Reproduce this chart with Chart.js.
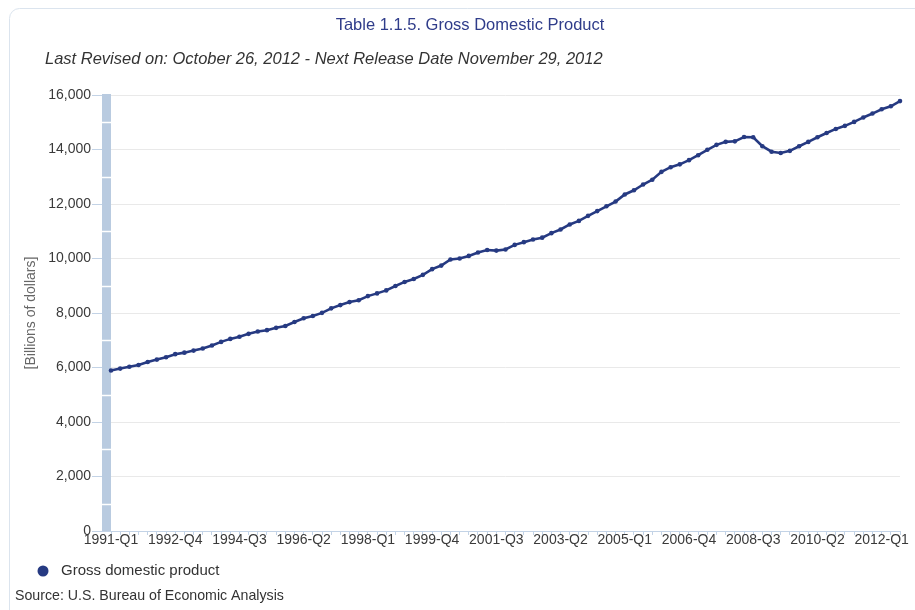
<!DOCTYPE html>
<html>
<head>
<meta charset="utf-8">
<script src="https://cdn.jsdelivr.net/npm/chart.js@4.4.0/dist/chart.umd.min.js"></script>
<style>
  html, body { margin: 0; padding: 0; background: #ffffff; overflow: hidden; }
  #wrap { width: 915px; height: 610px; position: relative; }
</style>
</head>
<body>
<div id="wrap"><canvas id="c" width="915" height="610"></canvas></div>
<script>
// ---------- DATA ----------
const chartTitle = 'Table 1.1.5. Gross Domestic Product';
const chartSubtitle = 'Last Revised on: October 26, 2012 - Next Release Date November 29, 2012';
const sourceText = 'Source: U.S. Bureau of Economic Analysis';
const yAxisTitle = '[Billions of dollars]';
const seriesName = 'Gross domestic product';

const categories = [
  '1991-Q1','1991-Q2','1991-Q3','1991-Q4',
  '1992-Q1','1992-Q2','1992-Q3','1992-Q4',
  '1993-Q1','1993-Q2','1993-Q3','1993-Q4',
  '1994-Q1','1994-Q2','1994-Q3','1994-Q4',
  '1995-Q1','1995-Q2','1995-Q3','1995-Q4',
  '1996-Q1','1996-Q2','1996-Q3','1996-Q4',
  '1997-Q1','1997-Q2','1997-Q3','1997-Q4',
  '1998-Q1','1998-Q2','1998-Q3','1998-Q4',
  '1999-Q1','1999-Q2','1999-Q3','1999-Q4',
  '2000-Q1','2000-Q2','2000-Q3','2000-Q4',
  '2001-Q1','2001-Q2','2001-Q3','2001-Q4',
  '2002-Q1','2002-Q2','2002-Q3','2002-Q4',
  '2003-Q1','2003-Q2','2003-Q3','2003-Q4',
  '2004-Q1','2004-Q2','2004-Q3','2004-Q4',
  '2005-Q1','2005-Q2','2005-Q3','2005-Q4',
  '2006-Q1','2006-Q2','2006-Q3','2006-Q4',
  '2007-Q1','2007-Q2','2007-Q3','2007-Q4',
  '2008-Q1','2008-Q2','2008-Q3','2008-Q4',
  '2009-Q1','2009-Q2','2009-Q3','2009-Q4',
  '2010-Q1','2010-Q2','2010-Q3','2010-Q4',
  '2011-Q1','2011-Q2','2011-Q3','2011-Q4',
  '2012-Q1','2012-Q2','2012-Q3'
];

const gdpValues = [
  5890, 5960, 6030, 6090,
  6200, 6290, 6375, 6490,
  6545, 6620, 6695, 6810,
  6940, 7050, 7130, 7235,
  7320, 7370, 7455, 7525,
  7670, 7810, 7890, 8005,
  8170, 8290, 8400, 8470,
  8620, 8720, 8830, 8990,
  9140, 9250, 9400, 9610,
  9740, 9965, 10000, 10095,
  10220, 10310, 10290, 10330,
  10500, 10600, 10700, 10765,
  10930, 11065, 11250, 11380,
  11565, 11740, 11915, 12090,
  12350, 12505, 12715, 12890,
  13180, 13350, 13455, 13610,
  13790, 13990, 14170, 14280,
  14300, 14460, 14450, 14120,
  13920, 13870, 13950, 14120,
  14278, 14450, 14605, 14755,
  14868, 15013, 15176, 15319,
  15478, 15586, 15776
];

const xTickLabels = ['1991-Q1','1992-Q4','1994-Q3','1996-Q2','1998-Q1','1999-Q4','2001-Q3',
                     '2003-Q2','2005-Q1','2006-Q4','2008-Q3','2010-Q2','2012-Q1'];
const yTickValues = [0, 2000, 4000, 6000, 8000, 10000, 12000, 14000, 16000];

// ---------- STYLE ----------
const FONT = "'Liberation Sans', Arial, sans-serif";
const lineColor = '#263a82';
const axisBlue = '#c3d3e6';
const bandColor = '#b9cbe0';

const framePlugin = {
  id: 'frame',
  beforeDraw(chart) {
    const ctx = chart.ctx;
    ctx.save();
    ctx.fillStyle = '#ffffff';
    ctx.fillRect(0, 0, chart.width, chart.height);
    ctx.strokeStyle = '#dbe4ee';
    ctx.lineWidth = 1;
    ctx.beginPath();
    ctx.roundRect(9.5, 8.5, 2000, 2000, 10);
    ctx.stroke();
    ctx.restore();
  },
  beforeDatasetsDraw(chart) {
    const ctx = chart.ctx;
    const y = chart.scales.y;
    const area = chart.chartArea;
    const top = y.getPixelForValue(yTickValues[yTickValues.length - 1]);
    const bottom = y.getPixelForValue(yTickValues[0]);
    ctx.save();
    ctx.fillStyle = bandColor;
    ctx.fillRect(area.left - 9, top - 1, 9, bottom - top + 1);
    ctx.strokeStyle = '#ffffff';
    ctx.lineWidth = 1.5;
    for (let i = 0; i < yTickValues.length - 1; i++) {
      const mid = (yTickValues[i] + yTickValues[i + 1]) / 2;
      const py = Math.round(y.getPixelForValue(mid)) + 0.5;
      ctx.beginPath();
      ctx.moveTo(area.left - 9, py);
      ctx.lineTo(area.left, py);
      ctx.stroke();
    }
    ctx.restore();
  },
  afterDraw(chart) {
    const ctx = chart.ctx;
    ctx.save();
    ctx.textBaseline = 'middle';
    // title
    ctx.fillStyle = '#2f3c8a';
    ctx.font = '16.5px ' + FONT;
    ctx.textAlign = 'center';
    ctx.fillText(chartTitle, 470, 25);
    // subtitle
    ctx.fillStyle = '#333333';
    ctx.font = 'italic 16.5px ' + FONT;
    ctx.textAlign = 'left';
    ctx.fillText(chartSubtitle, 45, 59);
    // legend
    const ds = chart.data.datasets[0];
    ctx.fillStyle = ds.borderColor;
    ctx.beginPath();
    ctx.arc(43, 571, 5.5, 0, Math.PI * 2);
    ctx.fill();
    ctx.fillStyle = '#333333';
    ctx.font = '15px ' + FONT;
    ctx.fillText(ds.label, 61, 571);
    // source
    ctx.font = '14.2px ' + FONT;
    ctx.fillText(sourceText, 15, 596);
    ctx.restore();
  }
};

new Chart(document.getElementById('c'), {
  type: 'line',
  data: {
    labels: categories,
    datasets: [{
      label: seriesName,
      data: gdpValues,
      borderColor: lineColor,
      backgroundColor: lineColor,
      borderWidth: 2.6,
      pointRadius: 2.3,
      pointBorderWidth: 0,
      pointBackgroundColor: lineColor,
      tension: 0,
      fill: false
    }]
  },
  options: {
    responsive: false,
    animation: false,
    devicePixelRatio: 1,
    layout: { padding: { left: 0, right: 15, top: 95, bottom: 0 } },
    plugins: {
      legend: { display: false },
      title: { display: false },
      tooltip: { enabled: false }
    },
    scales: {
      x: {
        type: 'category',
        offset: false,
        afterFit(scale) { scale.height = 79; },
        grid: {
          display: true,
          drawOnChartArea: false,
          drawTicks: true,
          tickLength: 4,
          color: axisBlue,
          tickColor: axisBlue
        },
        border: { display: true, color: axisBlue, width: 1 },
        ticks: {
          autoSkip: false,
          maxRotation: 0,
          minRotation: 0,
          padding: -3.5,
          color: '#3a3a3a',
          font: { family: FONT, size: 14 },
          callback(value, index) {
            const lab = categories[index];
            return xTickLabels.includes(lab) ? lab : '';
          }
        }
      },
      y: {
        min: yTickValues[0],
        max: yTickValues[yTickValues.length - 1],
        afterFit(scale) { scale.width = 111; },
        afterBuildTicks(scale) { scale.ticks = yTickValues.map(v => ({ value: v })); },
        grid: {
          color: '#e9e9e9',
          tickColor: axisBlue,
          tickLength: 19,
          lineWidth: 1
        },
        border: { display: false },
        ticks: {
          padding: 1,
          color: '#3a3a3a',
          font: { family: FONT, size: 14 },
          callback(v) { return Number(v).toLocaleString('en-US'); }
        },
        title: {
          display: true,
          text: yAxisTitle,
          color: '#666666',
          font: { family: FONT, size: 14 },
          padding: { top: 23, bottom: 0 }
        }
      }
    }
  },
  plugins: [framePlugin]
});
</script>
</body>
</html>
